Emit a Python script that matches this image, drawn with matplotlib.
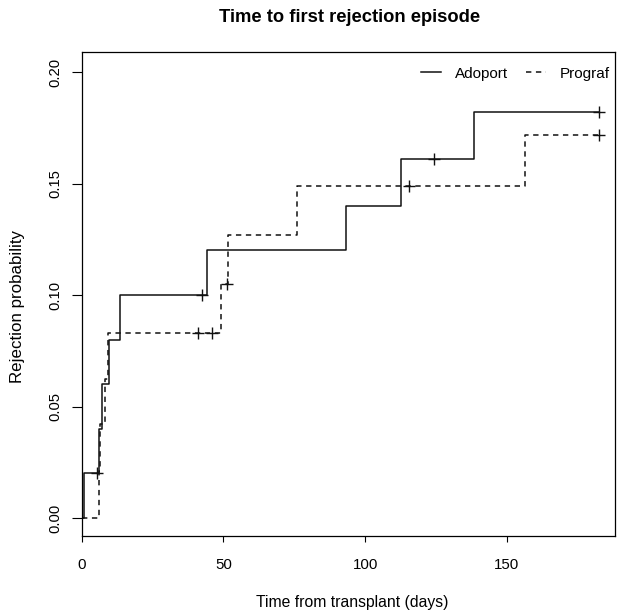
import numpy as np
import matplotlib
matplotlib.use('Agg')
import matplotlib.pyplot as plt

plt.rcParams['font.family'] = ['Liberation Sans', 'DejaVu Sans']

# Kaplan-Meier style step curves (cumulative rejection probability)
adoport_times = [0, 0.9, 6.0, 7.2, 9.5, 13.6, 44.1, 93.3, 112.6, 138.5]
adoport_probs = [0, 0.020, 0.040, 0.060, 0.080, 0.100, 0.120, 0.140, 0.161, 0.182]
adoport_end = 182.7
adoport_cens_t = [5.3, 42.4, 124.5, 182.7]
adoport_cens_p = [0.020, 0.100, 0.161, 0.182]

prograf_times = [0, 6.2, 6.6, 8.3, 9.4, 49.1, 51.6, 76.1, 156.5]
prograf_probs = [0, 0.021, 0.042, 0.0625, 0.083, 0.105, 0.127, 0.149, 0.172]
prograf_end = 182.7
prograf_cens_t = [41.2, 46.1, 51.3, 115.6, 182.7]
prograf_cens_p = [0.083, 0.083, 0.105, 0.149, 0.172]

x_ticks = [0, 50, 100, 150]
y_ticks = [0.00, 0.05, 0.10, 0.15, 0.20]


fig = plt.figure(figsize=(6.17, 6.13), dpi=100)
ax = fig.add_axes([81.7 / 617, 1 - 535.7 / 613, (615 - 81.7) / 617, (535.7 - 52) / 613])

# solid curve
ax.step(adoport_times + [adoport_end], adoport_probs + [adoport_probs[-1]],
        where='post', color='#111111', lw=1.1, label='Adoport')
ax.plot(adoport_cens_t, adoport_cens_p, ls='none', marker='+', ms=9, mew=1.0, color='#111111')

# dashed curve
ax.step(prograf_times + [prograf_end], prograf_probs + [prograf_probs[-1]],
        where='post', color='#111111', lw=1.1, dashes=(3.5, 3), label='Prograf')
ax.plot(prograf_cens_t, prograf_cens_p, ls='none', marker='+', ms=9, mew=1.0, color='#111111')

ax.set_xlim(0, 188.2)
ax.set_ylim(-0.0079, 0.209)
ax.set_xticks(x_ticks)
ax.set_xticklabels([str(t) for t in x_ticks])
ax.set_yticks(y_ticks)
ax.set_yticklabels(['%.2f' % v for v in y_ticks], rotation=90, va='center')
ax.tick_params(axis='x', length=4, width=0.8, pad=12, labelsize=10.8)
ax.tick_params(axis='y', length=7, width=0.8, pad=7, labelsize=10.6)
for s in ax.spines.values():
    s.set_linewidth(0.9)

ax.legend(loc='center right', bbox_to_anchor=(0.9906, 0.955), ncol=2, frameon=False,
          handlelength=1.3, handletextpad=0.9, columnspacing=1.2,
          borderaxespad=0, borderpad=0, fontsize=11)

fig.text(350 / 617, 1 - 17 / 613, 'Time to first rejection episode',
         ha='center', va='center', fontsize=13.2, fontweight='bold')
fig.text(352 / 617, 1 - 603 / 613, 'Time from transplant (days)',
         ha='center', va='center', fontsize=11.3)
fig.text(18 / 617, 1 - 307 / 613, 'Rejection probability',
         ha='center', va='center', rotation=90, fontsize=12.2)

fig.savefig('out.png', dpi=100)
